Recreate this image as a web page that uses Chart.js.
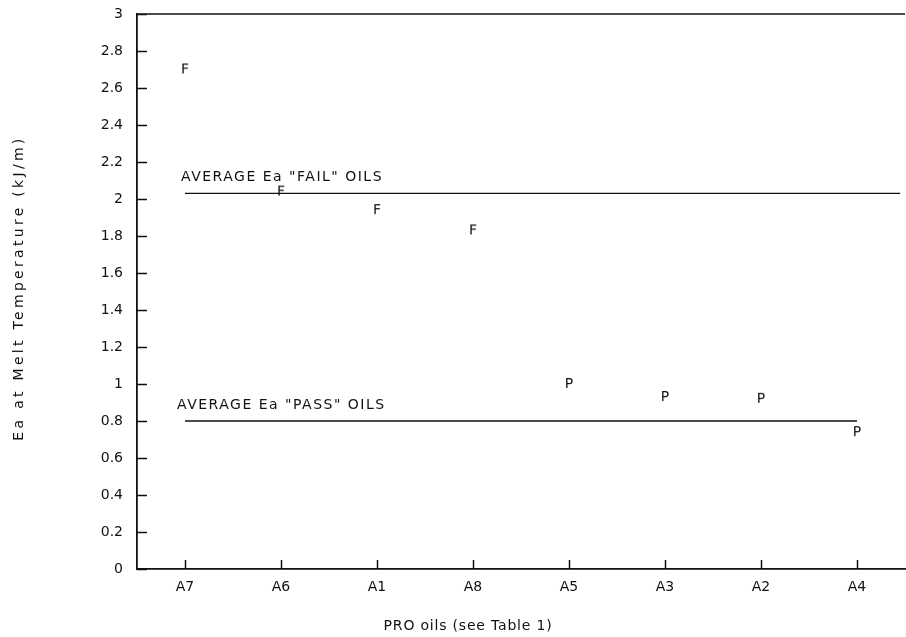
<!DOCTYPE html>
<html>
<head>
<meta charset="utf-8">
<script src="https://cdn.jsdelivr.net/npm/chart.js@4.4.1/dist/chart.umd.min.js"></script>
<style>
  html, body { margin: 0; padding: 0; background: #fff; overflow: hidden; }
  /* a bit wider than the window so the plot frame reaches the right edge */
  #wrap { width: 915px; height: 637px; }
  canvas { display: block; }
</style>
</head>
<body>
<div id="wrap"><canvas id="chart"></canvas></div>
<script>
// oils along the x axis, in plotted order
const oils = ['A7', 'A6', 'A1', 'A8', 'A5', 'A3', 'A2', 'A4'];
// Ea values (kJ/m)
const failOils = [0, 1, 2, 3];
const failEa = [2.70, 2.04, 1.94, 1.83];
const passOils = [4, 5, 6, 7];
const passEa = [1.00, 0.93, 0.92, 0.74];
// average lines
const failAvg = 2.03;
const failAvgRange = [0, 7.45];
const passAvg = 0.80;
const passAvgRange = [0, 7];
const yTicks = [0, 0.2, 0.4, 0.6, 0.8, 1, 1.2, 1.4, 1.6, 1.8, 2, 2.2, 2.4, 2.6, 2.8, 3];

const FONT = '"DejaVu Sans", "Liberation Sans", sans-serif';

// letter markers (F / P) used as point styles
function glyph(letter) {
    const c = document.createElement('canvas');
    c.width = 18; c.height = 20;
    const g = c.getContext('2d');
    g.fillStyle = '#111';
    g.font = '14px ' + FONT;
    g.textAlign = 'center';
    g.textBaseline = 'middle';
    g.fillText(letter, 9, 10);
    return c;
}

function pts(xs, ys) {
    return xs.map((x, i) => ({ x: x, y: ys[i] }));
}

// inward tick marks, top border and free text
const decor = {
    id: 'decor',
    afterDraw(chart) {
        const ctx = chart.ctx;
        const a = chart.chartArea;
        const x = chart.scales.x, y = chart.scales.y;
        ctx.save();
        ctx.strokeStyle = '#111';
        ctx.lineWidth = 1.5;
        ctx.beginPath();
        ctx.moveTo(a.left, a.top);
        ctx.lineTo(a.right, a.top);
        yTicks.forEach(v => {
            const py = Math.round(y.getPixelForValue(v)) + 0.5;
            ctx.moveTo(a.left, py);
            ctx.lineTo(a.left + 10, py);
        });
        oils.forEach((o, i) => {
            const px = Math.round(x.getPixelForValue(i)) + 0.5;
            ctx.moveTo(px, a.bottom);
            ctx.lineTo(px, a.bottom - 9);
        });
        ctx.stroke();

        ctx.fillStyle = '#111';
        ctx.font = '14px ' + FONT;
        ctx.textBaseline = 'alphabetic';
        ctx.textAlign = 'left';
        ctx.letterSpacing = '1.5px';
        ctx.fillText('AVERAGE Ea "FAIL" OILS', x.getPixelForValue(0) - 4, y.getPixelForValue(failAvg) - 12);
        ctx.fillText('AVERAGE Ea "PASS" OILS', x.getPixelForValue(0) - 8, y.getPixelForValue(passAvg) - 12);

        ctx.letterSpacing = '0.8px';
        ctx.textAlign = 'center';
        ctx.fillText('PRO oils (see Table 1)', 468, 630);
        ctx.translate(19, 288);
        ctx.rotate(-Math.PI / 2);
        ctx.textBaseline = 'middle';
        ctx.letterSpacing = '3.3px';
        ctx.fillText('Ea at Melt Temperature (kJ/m)', 0, 0);
        ctx.restore();
    }
};

new Chart(document.getElementById('chart'), {
    type: 'scatter',
    data: {
        datasets: [{
            label: 'fail',
            data: pts(failOils, failEa),
            pointStyle: glyph('F'),
            pointRadius: 9
        }, {
            label: 'pass',
            data: pts(passOils, passEa),
            pointStyle: glyph('P'),
            pointRadius: 9
        }, {
            label: 'fail average',
            data: pts(failAvgRange, [failAvg, failAvg]),
            showLine: true,
            borderColor: '#111',
            borderWidth: 1.3,
            pointRadius: 0
        }, {
            label: 'pass average',
            data: pts(passAvgRange, [passAvg, passAvg]),
            showLine: true,
            borderColor: '#111',
            borderWidth: 1.3,
            pointRadius: 0
        }]
    },
    options: {
        responsive: true,
        maintainAspectRatio: false,
        animation: false,
        layout: { padding: { top: 14, right: 1, left: 0, bottom: 0 } },
        plugins: {
            legend: { display: false },
            tooltip: { enabled: false }
        },
        scales: {
            x: {
                type: 'linear',
                min: -0.5,
                max: 7.5,
                afterBuildTicks: s => { s.ticks = oils.map((o, i) => ({ value: i })); },
                afterFit: s => { s.height = 68; s.paddingLeft = 0; s.paddingRight = 0; },
                ticks: {
                    callback: v => oils[v],
                    color: '#111',
                    font: { family: FONT, size: 14 },
                    padding: 10
                },
                grid: { display: true, drawOnChartArea: false, drawTicks: false },
                border: { display: true, color: '#111', width: 1.8 }
            },
            y: {
                min: 0,
                max: 3,
                afterBuildTicks: s => { s.ticks = yTicks.map(v => ({ value: v })); },
                afterFit: s => { s.width = 137; s.paddingTop = 0; s.paddingBottom = 0; },
                ticks: {
                    callback: v => String(Math.round(v * 10) / 10),
                    color: '#111',
                    font: { family: FONT, size: 14 },
                    padding: 14
                },
                grid: { display: true, drawOnChartArea: false, drawTicks: false },
                border: { display: true, color: '#111', width: 1.8 }
            }
        }
    },
    plugins: [decor]
});
</script>
</body>
</html>
